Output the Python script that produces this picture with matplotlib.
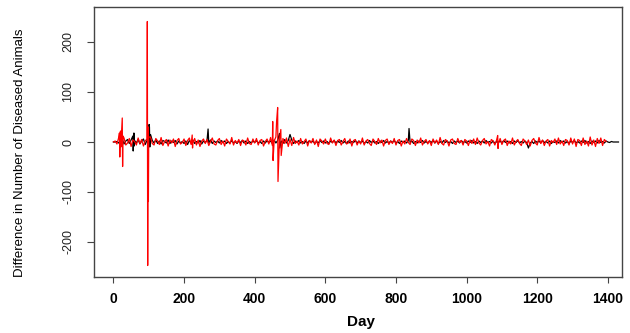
import matplotlib
matplotlib.use("Agg")
import matplotlib.pyplot as plt
import numpy as np

plt.rcParams["axes.unicode_minus"] = False

# Baseline noise, one value every 5 days
black_step_vals = [
    0, 0, 1, -2, 3, 6, -4, 2, 5, -3, 4, -6, 3, -2, 5, -4, 2, 6, -5, 3,
    8, -5, 3, -2, 4, -3, 2, -4, 3, 1, -2, 4, -3, 2, -1, 3, -4, 2, -2, 1,
    -3, 2, -5, 3, -2, 4, -3, 1, -2, 3, -4, 2, -1, 3, -2, 4, -3, 2, -1, 2,
    -2, 3, -1, 2, -3, 1, -2, 3, -2, 1, -3, 2, -1, 3, -2, 2, -3, 1, -2, 2,
    -1, 3, -2, 1, -3, 2, -2, 3, -1, 2, -3, 4, -2, 3, -4, 2, -3, 5, -2, 3,
    -2, 4, -3, 2, -1, 3, -2, 1, -3, 2, -2, 3, -1, 2, -3, 1, -2, 3, -1, 2,
    -2, 1, -3, 2, -1, 3, -2, 2, -1, 3, -2, 1, -3, 2, -2, 1, -1, 3, -2, 2,
    -1, 2, -3, 1, -2, 3, -1, 2, -2, 1, -3, 2, -1, 3, -2, 1, -2, 2, -1, 3,
    -2, 1, -3, 2, -1, 2, -2, 3, -1, 2, -3, 1, -2, 2, -1, 3, -2, 1, -2, 2,
    -1, 3, -2, 2, -3, 1, -2, 3, -1, 2, -2, 1, -3, 2, -1, 2, -2, 3, -1, 1,
    -2, 2, -1, 3, -2, 1, -3, 2, -1, 2, -2, 3, -1, 1, -2, 2, -3, 1, -1, 2,
    -2, 3, -1, 2, -2, 1, -3, 2, -1, 3, -2, 1, -2, 2, -1, 3, -2, 1, -3, 2,
    -1, 2, -2, 3, -1, 1, -2, 2, -3, 1, -1, 2, -2, 3, -1, 2, -2, 1, -3, 2,
    -1, 3, -2, 1, -2, 2, -1, 3, -2, 1, -3, 2, -1, 2, -2, 3, -1, 1, -2, 2,
    0, -1, 1, 0, 0, 0, 0,
]
red_step_vals = [
    0, 2, -4, 9, -7, 3, 8, -6, -2, 7, -9, 4, 1, -6, 8, -3, 5, -8, 2, 6,
    -8, 10, -3, -6, 7, 2, -5, 9, -7, 1, 5, -8, 4, -2, 6, -9, 3, 7, -4, -1,
    6, -7, 3, 8, -5, -2, 7, -6, 4, -9, 2, 6, -3, 5, -7, 1, 8, -4, -6, 3,
    7, -5, 2, -8, 6, 1, -4, 9, -6, 3, -2, 5, -7, 4, 2, -6, 8, -3, -5, 6,
    -2, 7, -6, 3, 5, -8, 1, 6, -4, 9, -7, 2, 10, -8, 4, -6, 7, -3, 8, -9,
    5, -7, 9, -3, 2, -6, 7, -4, 1, 6, -8, 3, -2, 7, -5, 4, -9, 6, 2, -4,
    6, -3, -5, 8, -2, 4, -7, 3, 5, -6, 1, 7, -4, -2, 6, -8, 3, 5, -6, 2,
    -4, 8, -6, 2, 5, -3, -7, 6, 1, -5, 7, -2, 4, -8, 3, 6, -5, 2, -3, 7,
    -6, 3, 5, -8, 2, -4, 7, -1, -5, 6, 3, -7, 4, -2, 8, -6, 1, 5, -4, 3,
    -7, 6, -2, 4, -5, 9, -3, -6, 5, 2, -8, 4, 6, -3, -5, 7, -1, 3, -6, 5,
    2, -7, 4, -3, 6, -5, 8, -2, -6, 3, 7, -4, 1, -8, 5, 2, -6, 4, -3, 7,
    -5, 3, 6, -7, 2, -4, 8, -6, 1, 5, -3, -7, 6, 2, -5, 4, -8, 3, 7, -2,
    -6, 9, -3, 4, -7, 2, 5, -8, 3, -1, 6, -5, 8, -4, 2, -7, 5, 3, -6, 8,
    -4, 6, -9, 5, 3, -7, 8, -5, 2, -8, 10, -6, 4, -9, 7, -3, 8, -7, 5, 1,
]
step = 5

# Single-day spikes (day, value)
black_spike_days = [55, 56, 58, 59, 101, 102, 103, 105, 268, 470, 471, 500, 837, 1175]
black_spike_vals = [12, -18, 18, -8, 35, 30, -10, 15, 26, 17, -12, 15, 27, -12]

red_spike_days = [17, 18, 20, 21, 25, 26, 27, 96, 97, 98, 99, 100, 223, 224,
                  451, 452, 462, 465, 466, 474, 475, 1088, 1089]
red_spike_vals = [18, -30, 22, -10, 48, -49, 12, 241, -247, 30, -119, 10, 14, -12,
                  41, -37, 41, 69, -79, 25, -27, 13, -13]


def build_series(step_vals, spike_days, spike_vals):
    series = {i * step: v for i, v in enumerate(step_vals)}
    for d, v in zip(spike_days, spike_vals):
        series[d] = v
    days = sorted(series)
    return np.array(days), np.array([series[d] for d in days])


black_x, black_y = build_series(black_step_vals, black_spike_days, black_spike_vals)
red_x, red_y = build_series(red_step_vals, red_spike_days, red_spike_vals)

fig = plt.figure(figsize=(6.3, 3.33), dpi=100)
ax = fig.add_axes([94 / 630, 1 - 277 / 333, 528 / 630, 270 / 333])

ax.plot(black_x, black_y, color="black", lw=0.9)
ax.plot(red_x, red_y, color="#ff0000", lw=0.9)

ax.set_xlim(-55, 1440)
ax.set_ylim(-270, 270)
ax.set_xticks(range(0, 1401, 200))
ax.set_yticks([-200, -100, 0, 100, 200])

for s in ax.spines.values():
    s.set_color("#444444")
    s.set_linewidth(1.0)

ax.tick_params(axis="x", length=4, width=0.8, color="#444444", pad=7,
               labelsize=10)
ax.tick_params(axis="y", length=5, width=0.8, color="#444444", pad=9,
               labelsize=9, labelrotation=90, labelcolor="#222222")
for lab in ax.get_xticklabels():
    lab.set_fontfamily("Liberation Sans")
    lab.set_fontweight("bold")
for lab in ax.get_yticklabels():
    lab.set_fontfamily("Liberation Sans")
    lab.set_verticalalignment("center")

ax.set_xlabel("Day", fontsize=11, fontweight="bold", family="Liberation Sans")
ax.xaxis.set_label_coords(0.505, -0.14)
ax.set_ylabel("Difference in Number of Diseased Animals", fontsize=9.5,
              family="Liberation Sans")
ax.yaxis.set_label_coords(-0.129, 0.46)

fig.savefig("out.png", dpi=100)
